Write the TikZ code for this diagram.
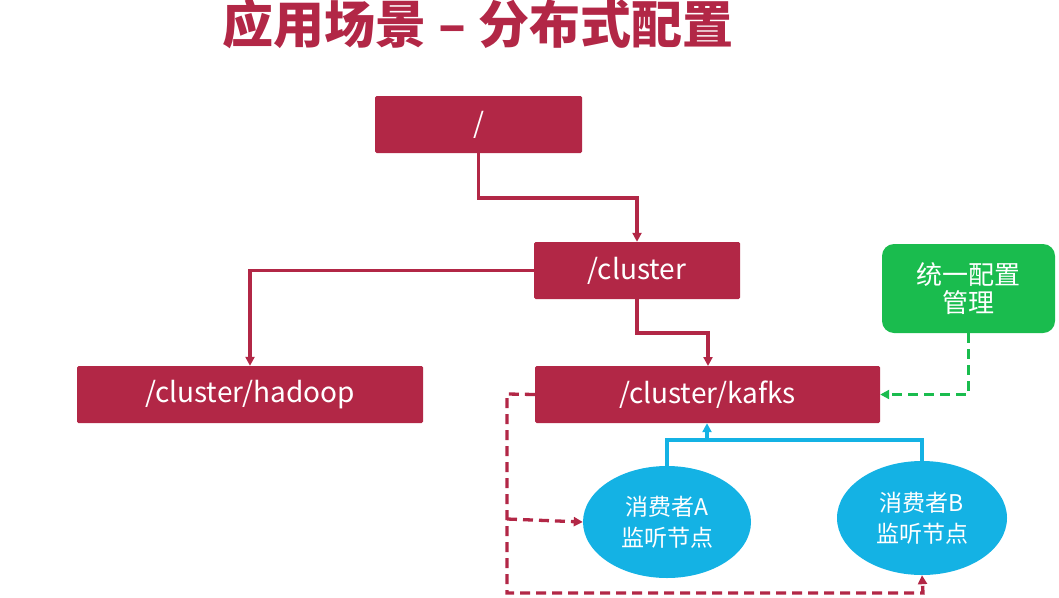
\documentclass[tikz,border=0pt]{standalone}
\usepackage{fontspec}
\setmainfont{Noto Sans CJK SC}
\usetikzlibrary{arrows.meta,shapes.geometric}
\definecolor{crim}{RGB}{178,39,70}
\definecolor{cblue}{RGB}{20,178,228}
\definecolor{cgreen}{RGB}{26,188,78}
\tikzset{
  rbox/.style={fill=crim, text=white, inner sep=0pt, rounded corners=1.5pt, font=\fontsize{28}{30}\selectfont},
  gbox/.style={fill=cgreen, text=white, inner sep=0pt, rounded corners=12pt, align=center, font=\fontsize{26}{32}\selectfont},
  ell/.style={ellipse, fill=cblue, text=white, inner sep=0pt, align=center, font=\fontsize{23}{31}\selectfont},
  tip/.style={-{Triangle[length=9pt,width=9pt]}},
  rline/.style={draw=crim, line width=3.3pt, tip},
  bline/.style={draw=cblue, line width=3.3pt},
  rdash/.style={draw=crim, line width=3.3pt, dash pattern=on 10pt off 6pt, tip},
  gdash/.style={draw=cgreen, line width=3.3pt, dash pattern=on 10pt off 6pt, tip},
}
\begin{document}
\begin{tikzpicture}[x=1pt,y=-1pt]
\useasboundingbox (0,0) rectangle (1059,597);
\node[text=crim, font=\fontsize{51}{54}\selectfont\bfseries] (title) at (478,24) {应用场景 – 分布式配置};
\node[rbox, minimum width=207pt, minimum height=57pt] (root) at (478.5,124.5) {/};
\node[rbox, minimum width=206pt, minimum height=57pt] (cluster) at (637,270.5) {/cluster};
\node[rbox, minimum width=346pt, minimum height=57pt] (hadoop) at (250,394.5) {/cluster/hadoop};
\node[rbox, minimum width=345pt, minimum height=57pt] (kafks) at (707.5,394.5) {/cluster/kafks};
\node[gbox, minimum width=173pt, minimum height=89pt] (cfg) at (968.5,288.5) {统一配置\\[-4pt]管理};
\node[ell, minimum width=168pt, minimum height=112pt] (ca) at (667,522) {消费者A\\监听节点};
\node[ell, minimum width=170pt, minimum height=114pt] (cb) at (922,518) {消费者B\\监听节点};
\coordinate (j1) at (707,440);
\coordinate (lb) at (507,394);
\coordinate (la) at (507,519);
\path[rline] (root.south) |- (637,198) -- (cluster.north);
\path[rline] (cluster.west) -| (hadoop.north);
\path[rline] (cluster.south) |- (708,333) -- (708,366);
\path[gdash] (cfg.south) |- (kafks.east);
\draw[bline] (ca.north) |- (922,440) -- (cb.north);
\path[draw=cblue, line width=3.3pt, tip] (j1) -- (j1 |- kafks.south);
\path[rdash] (kafks.west) -- (lb) |- (923,593) -- (cb.south);
\path[rdash] (la) -- (ca.west);
\end{tikzpicture}
\end{document}
